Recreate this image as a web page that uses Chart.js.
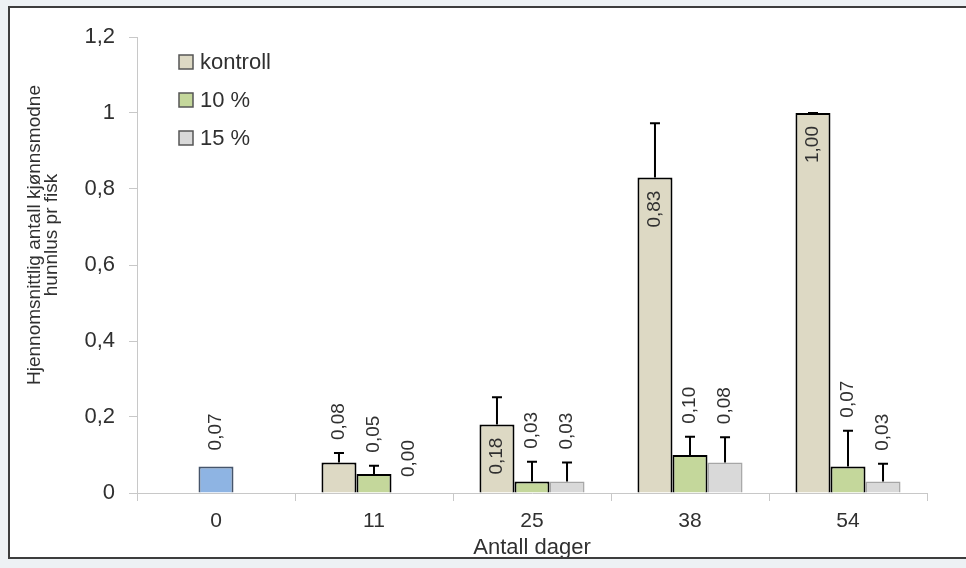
<!DOCTYPE html>
<html>
<head>
<meta charset="utf-8">
<script src="https://cdn.jsdelivr.net/npm/chart.js@4.4.1/dist/chart.umd.min.js"></script>
<style>
  html, body { margin: 0; padding: 0; background: #edf1f4; overflow: hidden; }
  #ramme {
    position: absolute; left: 8px; top: 6px;
    width: 958px; height: 549px;
    border: 2px solid #3d3d3d; background: #fff;
  }
</style>
</head>
<body>
<div id="ramme"><canvas id="myChart"></canvas></div>
<script>
let dager = ["0", "11", "25", "38", "54"];
let yTicks = [0, 0.2, 0.4, 0.6, 0.8, 1, 1.2];

let kontroll = [null, 0.08, 0.18, 0.83, 1.00];
let kontrollFeil = [null, 0.025, 0.072, 0.143, 0.0];

// dag 0 er startmålingen (blå søyle, midt i gruppen)
let tiProsent = [0.07, 0.05, 0.03, 0.10, 0.07];
let tiProsentFeil = [null, 0.022, 0.052, 0.048, 0.094];

let femtenProsent = [null, 0.00, 0.03, 0.08, 0.03];
let femtenProsentFeil = [null, null, 0.05, 0.067, 0.047];

const font = '"Liberation Sans", Arial, sans-serif';
const tekstFarge = "#303030";

// feilstolper (bare pluss-delen, som i originalen)
const feilstolper = {
  id: "feilstolper",
  afterDatasetsDraw(chart) {
    const ctx = chart.ctx;
    const y = chart.scales.y;
    ctx.save();
    ctx.strokeStyle = "#000";
    ctx.lineWidth = 2;
    chart.data.datasets.forEach((ds, i) => {
      chart.getDatasetMeta(i).data.forEach((bar, j) => {
        const v = ds.data[j];
        const e = ds.feil[j];
        if (v == null || e == null) return;
        const topp = y.getPixelForValue(v + e);
        ctx.beginPath();
        ctx.moveTo(bar.x, bar.y);
        ctx.lineTo(bar.x, topp);
        ctx.moveTo(bar.x - 5, topp);
        ctx.lineTo(bar.x + 5, topp);
        ctx.stroke();
      });
    });
    ctx.restore();
  },
};

// verdier skrevet loddrett over / inni søylene
const verdier = {
  id: "verdier",
  afterDatasetsDraw(chart) {
    const ctx = chart.ctx;
    const y = chart.scales.y;
    ctx.save();
    ctx.font = "19px " + font;
    ctx.fillStyle = tekstFarge;
    ctx.textBaseline = "middle";
    chart.data.datasets.forEach((ds, i) => {
      chart.getDatasetMeta(i).data.forEach((bar, j) => {
        const v = ds.data[j];
        if (v == null) return;
        const tekst = v.toFixed(2).replace(".", ",");
        ctx.save();
        if (v > 0.15) {
          ctx.translate(bar.x, bar.y + 13);
          ctx.rotate(-Math.PI / 2);
          ctx.textAlign = "right";
        } else {
          const e = ds.feil[j] || 0;
          const luft = e ? 13 : 16;
          ctx.translate(bar.x, y.getPixelForValue(v + e) - luft);
          ctx.rotate(-Math.PI / 2);
          ctx.textAlign = "left";
        }
        ctx.fillText(tekst, 0, 0);
        ctx.restore();
      });
    });
    ctx.restore();
  },
};

// legende inne i plottet, oppe til venstre
const legende = {
  id: "legende",
  afterDraw(chart) {
    const ctx = chart.ctx;
    const a = chart.chartArea;
    ctx.save();
    ctx.font = "22px " + font;
    ctx.textBaseline = "middle";
    ctx.textAlign = "left";
    chart.data.datasets.forEach((ds, i) => {
      const x = a.left + 42;
      const yy = a.top + 25 + i * 38;
      ctx.fillStyle = ds.legendeFarge;
      ctx.fillRect(x, yy - 7, 14, 14);
      ctx.strokeStyle = "#555";
      ctx.lineWidth = 1.5;
      ctx.strokeRect(x, yy - 7, 14, 14);
      ctx.fillStyle = tekstFarge;
      ctx.fillText(ds.label, x + 21, yy + 1);
    });
    ctx.restore();
  },
};

// y-aksetittel, to linjer
const yTittel = {
  id: "yTittel",
  afterDraw(chart) {
    const ctx = chart.ctx;
    const a = chart.chartArea;
    ctx.save();
    ctx.font = "19px " + font;
    ctx.fillStyle = tekstFarge;
    ctx.textAlign = "center";
    ctx.textBaseline = "middle";
    const linjer = ["Hjennomsnittlig antall kjønnsmodne", "hunnlus pr fisk"];
    linjer.forEach((l, i) => {
      ctx.save();
      ctx.translate(25 + i * 17, a.top + 198);
      ctx.rotate(-Math.PI / 2);
      ctx.fillText(l, 0, 0);
      ctx.restore();
    });
    ctx.restore();
  },
};

const blaa = "#8eb4e3";
const gronn = "#c4d79b";

let myChart = new Chart(document.getElementById("myChart").getContext("2d"), {
  type: "bar",
  data: {
    labels: dager,
    datasets: [
      {
        label: "kontroll",
        data: kontroll,
        feil: kontrollFeil,
        backgroundColor: "#ddd9c4",
        legendeFarge: "#ddd9c4",
        borderColor: "#000",
        borderWidth: 2,
      },
      {
        label: "10 %",
        data: tiProsent,
        feil: tiProsentFeil,
        backgroundColor: (c) => (c.dataIndex === 0 ? blaa : gronn),
        legendeFarge: gronn,
        borderColor: (c) => (c.dataIndex === 0 ? "#46556b" : "#000"),
        borderWidth: 2,
      },
      {
        label: "15 %",
        data: femtenProsent,
        feil: femtenProsentFeil,
        backgroundColor: "#d9d9d9",
        legendeFarge: "#d9d9d9",
        borderColor: "#a6a6a6",
        borderWidth: 1.5,
      },
    ],
  },
  options: {
    responsive: true,
    maintainAspectRatio: false,
    animation: false,
    categoryPercentage: 0.665,
    barPercentage: 1.0,
    layout: {
      padding: { top: 29, right: 41, bottom: 0, left: 0 },
    },
    plugins: {
      legend: { display: false },
      tooltip: { enabled: false },
    },
    scales: {
      x: {
        grid: {
          offset: true,
          drawOnChartArea: false,
          tickLength: 8,
          color: "#c8c8c8",
        },
        border: { color: "#c8c8c8", width: 1 },
        ticks: {
          color: tekstFarge,
          font: { family: font, size: 21 },
          padding: 8,
        },
        title: {
          display: true,
          text: "Antall dager",
          color: tekstFarge,
          font: { family: font, size: 22, lineHeight: 0.8 },
          padding: { top: 0, bottom: 0 },
        },
        afterFit(scale) {
          scale.height = 64;
        },
      },
      y: {
        min: 0,
        max: 1.2,
        afterBuildTicks(scale) {
          scale.ticks = yTicks.map((v) => ({ value: v }));
        },
        grid: {
          drawOnChartArea: false,
          tickLength: 8,
          color: "#c8c8c8",
        },
        border: { color: "#c8c8c8", width: 1 },
        ticks: {
          color: tekstFarge,
          font: { family: font, size: 22 },
          padding: 14,
          callback: (v) => String(Math.round(v * 10) / 10).replace(".", ","),
        },
        afterFit(scale) {
          scale.width = 127;
        },
      },
    },
  },
  plugins: [feilstolper, verdier, legende, yTittel],
});
</script>
</body>
</html>
